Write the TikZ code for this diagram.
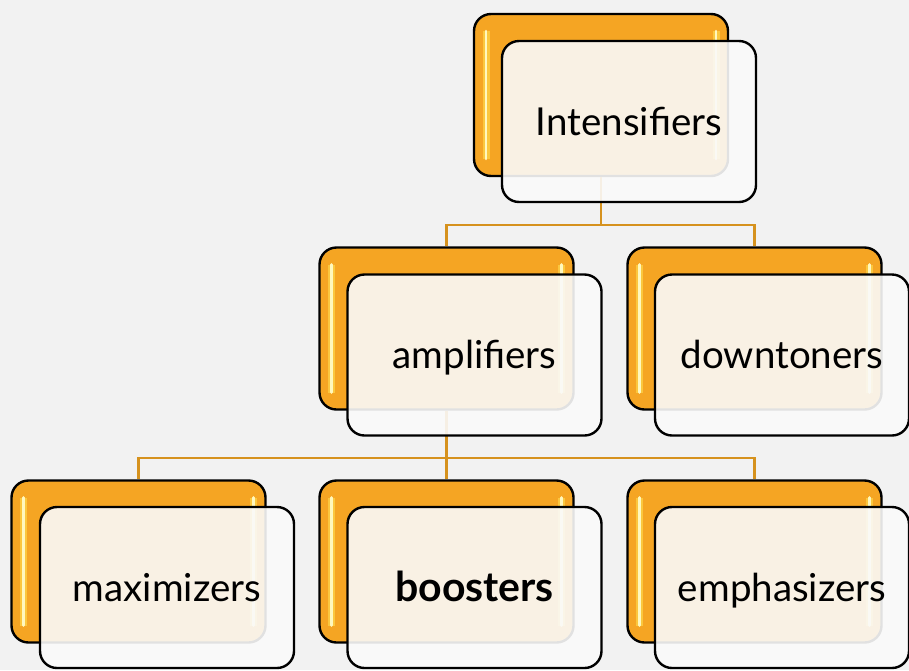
\documentclass[tikz,border=0pt]{standalone}
\usepackage{fontspec}
\setmainfont{Lato}
\definecolor{pagebg}{RGB}{242,242,242}
\definecolor{boxorange}{RGB}{245,165,35}
\definecolor{glosscore}{RGB}{255,248,190}
\definecolor{glossglow}{RGB}{255,222,80}
\definecolor{frontfill}{RGB}{250,250,250}
\definecolor{linkcolor}{RGB}{214,146,30}
\begin{document}
\begin{tikzpicture}[x=1pt,y=-1pt,
  gloss/.style={draw=glosscore, line width=2.6pt, line cap=round,
    preaction={draw=glossglow, line width=7pt, opacity=0.6}},
  backbox/.style={draw=black, line width=2.4pt, rounded corners=17pt,
    fill=boxorange, minimum width=254pt, minimum height=162pt, inner sep=0pt,
    path picture={
      \draw[gloss] ([xshift=12pt,yshift=-17pt]path picture bounding box.north west)
        -- ([xshift=12pt,yshift=17pt]path picture bounding box.south west);
      \draw[gloss] ([xshift=-12pt,yshift=-17pt]path picture bounding box.north east)
        -- ([xshift=-12pt,yshift=17pt]path picture bounding box.south east);
    }},
  frontbox/.style={draw=black, line width=2.4pt, rounded corners=17pt,
    fill=frontfill, fill opacity=0.9, text opacity=1,
    minimum width=254pt, minimum height=161pt, inner sep=0pt,
    font=\fontsize{38.5}{46}\selectfont, text height=27pt, text depth=0pt},
  conn/.style={draw=linkcolor, line width=2.5pt}
]
% page
\fill[pagebg] (0,0) rectangle (909,670);
\useasboundingbox (0,0) rectangle (909,670);

% back (orange) cards
\node[backbox] (intb)   at (601,95)    {};
\node[backbox] (ampb)   at (446.5,328.5) {};
\node[backbox] (downb)  at (754.5,328.5) {};
\node[backbox] (maxb)   at (138.5,561.5) {};
\node[backbox] (boostb) at (446.5,561.5) {};
\node[backbox] (emphb)  at (754.5,561.5) {};

% tree connectors
\coordinate (j1) at (601,225);
\coordinate (j2) at (446.5,458);
\draw[conn] (intb.south) -- (j1) -| (ampb.north);
\draw[conn] (j1) -| (downb.north);
\draw[conn] (ampb.south) -- (j2) -| (maxb.north);
\draw[conn] (j2) -- (boostb.north);
\draw[conn] (j2) -| (emphb.north);

% front (translucent) cards with labels
\node[frontbox] (intf)   at (629,121.5) {Intensifiers};
\node[frontbox] (ampf)   at (474.5,355) {amplifiers};
\node[frontbox] (downf)  at (782,355)   {downtoners};
\node[frontbox] (maxf)   at (167,587.5) {maximizers};
\node[frontbox] (boostf) at (474.5,587.5) {\fontsize{41}{48}\selectfont\bfseries boosters};
\node[frontbox] (emphf)  at (782,587.5) {emphasizers};
\end{tikzpicture}
\end{document}
